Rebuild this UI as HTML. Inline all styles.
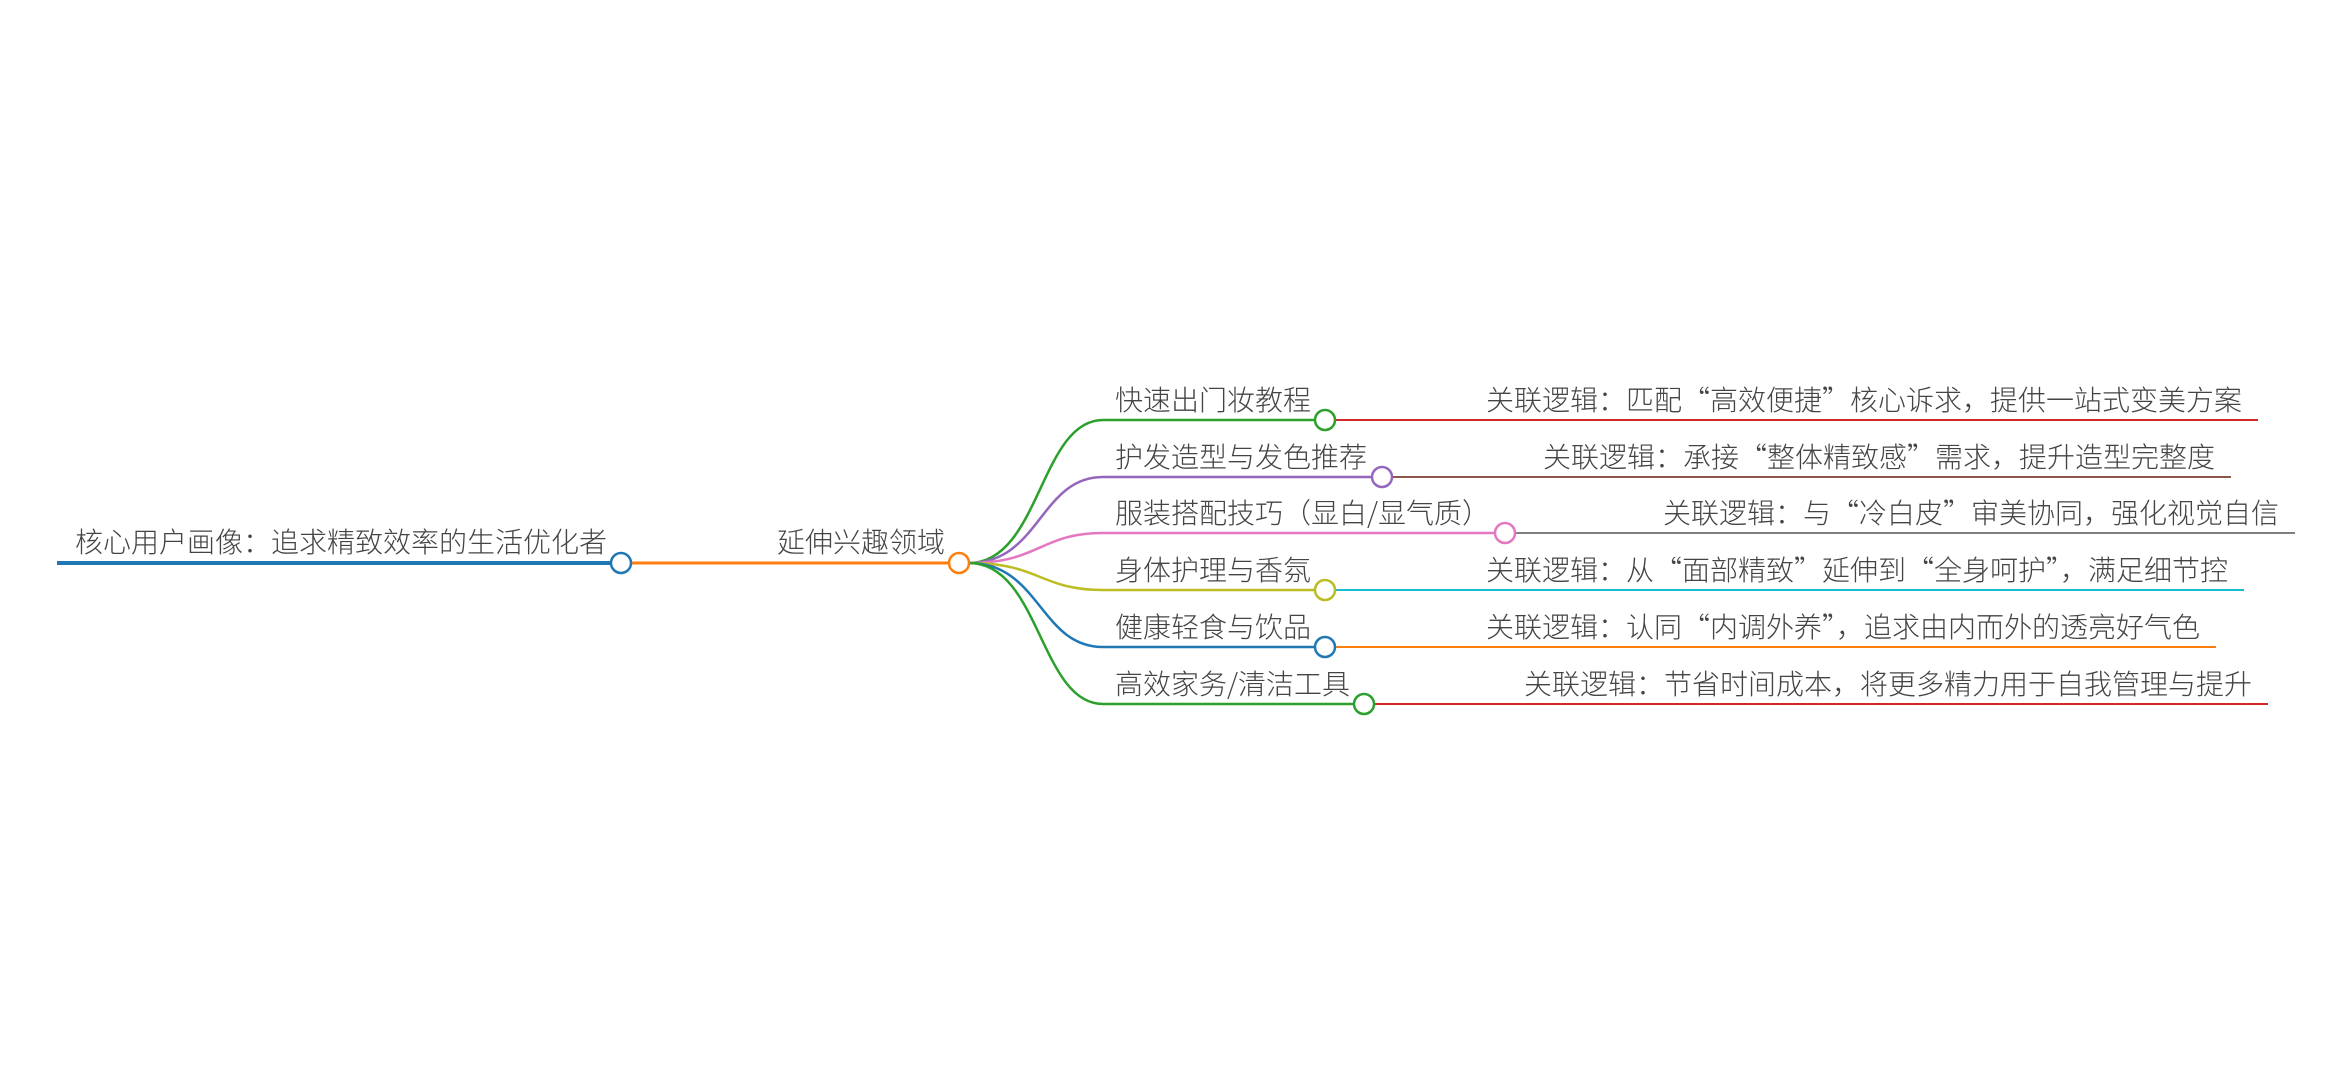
<!DOCTYPE html>
<html><head><meta charset="utf-8"><style>
html,body{margin:0;padding:0;background:#fff;}
svg text{font-family:"Noto Sans CJK SC","Liberation Sans",sans-serif;font-size:28px;font-weight:300;fill:#444;}
</style></head><body>
<svg width="2352" height="1085" viewBox="0 0 2352 1085" xmlns="http://www.w3.org/2000/svg">
<rect width="2352" height="1085" fill="#fff"/>
<line x1="57" y1="563" x2="611" y2="563" stroke="#1f77b4" stroke-width="4"/>
<text x="75" y="552">核心用户画像：追求精致效率的生活优化者</text>
<line x1="631" y1="563" x2="949" y2="563" stroke="#ff7f0e" stroke-width="3"/>
<text x="945" y="552" text-anchor="end">延伸兴趣领域</text>
<g fill="none" stroke-width="2.5">
<path d="M969 563 C1040 563 1040 420 1103 420 L1315 420" stroke="#2ca02c"/>
<path d="M969 563 C1040 563 1040 477 1103 477 L1372 477" stroke="#9467bd"/>
<path d="M969 563 C1040 563 1040 533 1103 533 L1495 533" stroke="#e377c2"/>
<path d="M969 563 C1040 563 1040 590 1103 590 L1315 590" stroke="#bcbd22"/>
<path d="M969 563 C1040 563 1040 647 1103 647 L1315 647" stroke="#1f77b4"/>
<path d="M969 563 C1040 563 1040 704 1103 704 L1354 704" stroke="#2ca02c"/>
</g>
<g stroke-width="2">
<line x1="1335" y1="420" x2="2258" y2="420" stroke="#d62728"/>
<line x1="1392" y1="477" x2="2231" y2="477" stroke="#8c564b"/>
<line x1="1515" y1="533" x2="2295" y2="533" stroke="#7f7f7f"/>
<line x1="1335" y1="590" x2="2244" y2="590" stroke="#17becf"/>
<line x1="1335" y1="647" x2="2216" y2="647" stroke="#ff7f0e"/>
<line x1="1374" y1="704" x2="2268" y2="704" stroke="#d62728"/>
</g>
<g fill="#fff" stroke-width="2.5">
<circle cx="621" cy="563" r="10" stroke="#1f77b4"/>
<circle cx="959" cy="563" r="10" stroke="#ff7f0e"/>
<circle cx="1325" cy="420" r="10" stroke="#2ca02c"/>
<circle cx="1382" cy="477" r="10" stroke="#9467bd"/>
<circle cx="1505" cy="533" r="10" stroke="#e377c2"/>
<circle cx="1325" cy="590" r="10" stroke="#bcbd22"/>
<circle cx="1325" cy="647" r="10" stroke="#1f77b4"/>
<circle cx="1364" cy="704" r="10" stroke="#2ca02c"/>
</g>
<text x="1115" y="410">快速出门妆教程</text>
<text x="1115" y="467">护发造型与发色推荐</text>
<text x="1115" y="523">服装搭配技巧（显白/显气质）</text>
<text x="1115" y="580">身体护理与香氛</text>
<text x="1115" y="637">健康轻食与饮品</text>
<text x="1115" y="694">高效家务/清洁工具</text>
<text x="2242" y="410" text-anchor="end">关联逻辑：匹配“高效便捷”核心诉求，提供一站式变美方案</text>
<text x="2215" y="467" text-anchor="end">关联逻辑：承接“整体精致感”需求，提升造型完整度</text>
<text x="2279" y="523" text-anchor="end">关联逻辑：与“冷白皮”审美协同，强化视觉自信</text>
<text x="2228" y="580" text-anchor="end">关联逻辑：从“面部精致”延伸到“全身呵护”，满足细节控</text>
<text x="2200" y="637" text-anchor="end">关联逻辑：认同“内调外养”，追求由内而外的透亮好气色</text>
<text x="2252" y="694" text-anchor="end">关联逻辑：节省时间成本，将更多精力用于自我管理与提升</text>
</svg>
</body></html>
